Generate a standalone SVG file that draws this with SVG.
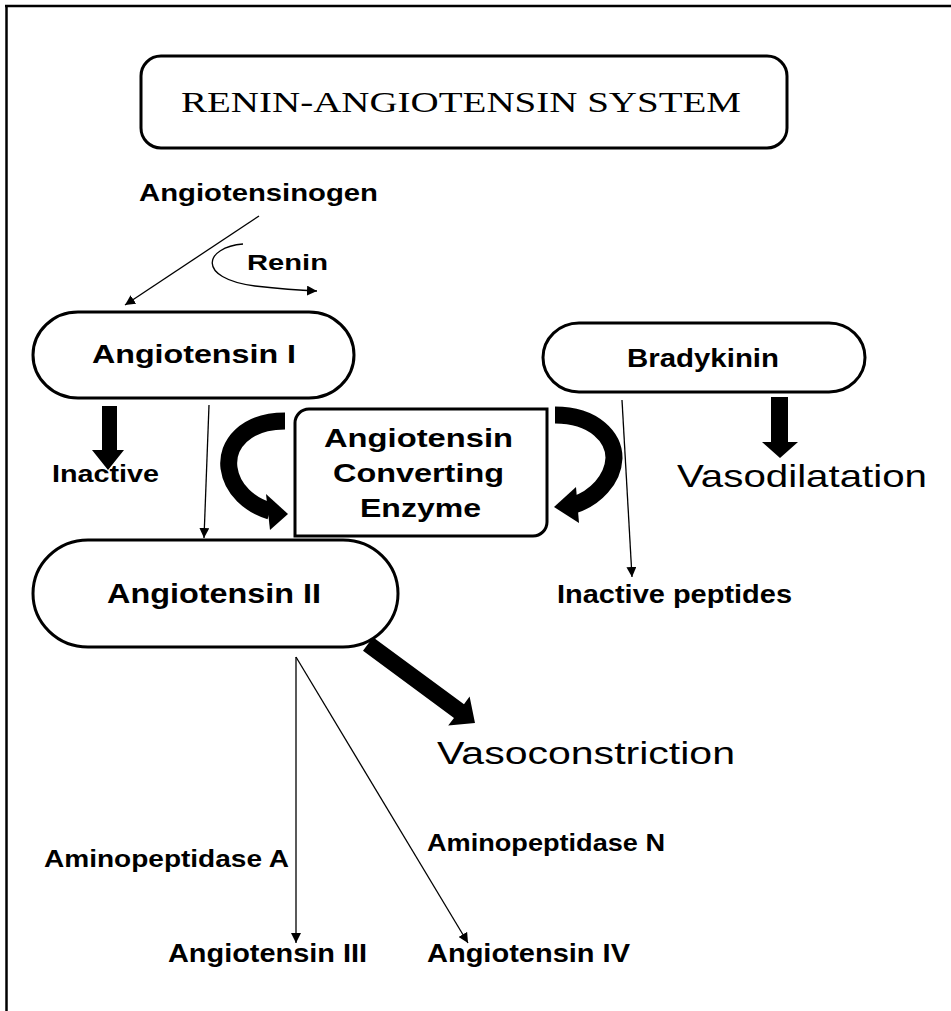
<svg xmlns="http://www.w3.org/2000/svg" width="951" height="1011" viewBox="0 0 951 1011">
<style>
.b{font-family:"Liberation Sans",Arial,sans-serif;font-weight:bold;fill:#000}
.n{font-family:"Liberation Sans",Arial,sans-serif;font-weight:normal;fill:#000}
.box{fill:#fff;stroke:#000;stroke-width:3}
.thin{fill:none;stroke:#000;stroke-width:1.3}
.thick{fill:none;stroke:#000;stroke-width:17}
</style>
<defs>
<marker id="ah" viewBox="0 0 10 10" refX="10" refY="5" markerWidth="10" markerHeight="10" markerUnits="userSpaceOnUse" orient="auto">
<path d="M0,0 L10,5 L0,10 z" fill="#000"/>
</marker>
</defs>
<rect x="0" y="0" width="951" height="1011" fill="#fff"/>
<g id="frame">
<line x1="5" y1="6" x2="951" y2="6" stroke="#000" stroke-width="2.5"/>
<line x1="6.5" y1="5" x2="6.5" y2="1011" stroke="#000" stroke-width="2.5"/>
</g>
<g id="title">
<rect class="box" x="141" y="56" width="646" height="92" rx="20" ry="20"/>
<text x="181" y="112" font-family="'Liberation Serif','Times New Roman',serif" font-size="30" textLength="560" lengthAdjust="spacingAndGlyphs">RENIN-ANGIOTENSIN SYSTEM</text>
</g>
<g id="connectors">
<line class="thin" x1="259" y1="216" x2="125" y2="305" marker-end="url(#ah)"/>
<path class="thin" d="M243 244 C205 247 195 278 255 286 Q290 290 317 291" marker-end="url(#ah)"/>
<line class="thin" x1="209" y1="405" x2="204" y2="538" marker-end="url(#ah)"/>
<line class="thin" x1="622" y1="400" x2="632" y2="577" marker-end="url(#ah)"/>
<line class="thin" x1="296" y1="657" x2="296" y2="943" marker-end="url(#ah)"/>
<line class="thin" x1="296" y1="657" x2="468" y2="943" marker-end="url(#ah)"/>
<polygon points="102,406 117,406 117,450 124,450 108,470 92,450 102,450" fill="#000"/>
<polygon points="771,397 788,397 788,442 798,442 780,458 762,442 771,442" fill="#000"/>
<polygon points="373,637.2 464,704.3 469.6,696.6 475,723 448.2,725.6 454,717.9 363,650.8" fill="#000"/>
<path class="thick" d="M285 421 C245 421 226 445 229 468 C232 490 250 505 270 511"/>
<polygon points="266,494 288,514 270,530" fill="#000"/>
<path class="thick" d="M555 415 C595 415 614 438 614 458 C613 480 595 498 574 505"/>
<polygon points="576,487 554,507 579,523" fill="#000"/>
</g>
<g id="angiotensinogen">
<text class="b" x="139" y="201" font-size="24" textLength="239" lengthAdjust="spacingAndGlyphs">Angiotensinogen</text>
</g>
<g id="renin">
<text class="b" x="247" y="270" font-size="22" textLength="81" lengthAdjust="spacingAndGlyphs">Renin</text>
</g>
<g id="angiotensin-i">
<rect class="box" x="33" y="312" width="321" height="86" rx="45" ry="43"/>
<text class="b" x="92" y="363" font-size="26" textLength="204" lengthAdjust="spacingAndGlyphs">Angiotensin I</text>
</g>
<g id="inactive">
<text class="b" x="52" y="482" font-size="24" textLength="107" lengthAdjust="spacingAndGlyphs">Inactive</text>
</g>
<g id="ace">
<path class="box" d="M309 409 H547 V522 A14 14 0 0 1 533 536 H295 V423 A14 14 0 0 1 309 409 Z"/>
<text class="b" x="324" y="447" font-size="26" textLength="189" lengthAdjust="spacingAndGlyphs">Angiotensin</text>
<text class="b" x="333" y="482" font-size="26" textLength="171" lengthAdjust="spacingAndGlyphs">Converting</text>
<text class="b" x="360" y="517" font-size="26" textLength="121" lengthAdjust="spacingAndGlyphs">Enzyme</text>
</g>
<g id="bradykinin">
<rect class="box" x="543" y="323" width="322" height="69" rx="36" ry="34.5"/>
<text class="b" x="627" y="367" font-size="25" textLength="152" lengthAdjust="spacingAndGlyphs">Bradykinin</text>
</g>
<g id="vasodilatation">
<text class="n" x="677" y="487" font-size="32" textLength="250" lengthAdjust="spacingAndGlyphs">Vasodilatation</text>
</g>
<g id="angiotensin-ii">
<rect class="box" x="33" y="540" width="365" height="107" rx="55" ry="53.5"/>
<text class="b" x="107" y="603" font-size="27" textLength="214" lengthAdjust="spacingAndGlyphs">Angiotensin II</text>
</g>
<g id="inactive-peptides">
<text class="b" x="557" y="603" font-size="25" textLength="235" lengthAdjust="spacingAndGlyphs">Inactive peptides</text>
</g>
<g id="vasoconstriction">
<text class="n" x="437" y="764" font-size="31" textLength="298" lengthAdjust="spacingAndGlyphs">Vasoconstriction</text>
</g>
<g id="aminopeptidase-a">
<text class="b" x="44" y="867" font-size="24" textLength="245" lengthAdjust="spacingAndGlyphs">Aminopeptidase A</text>
</g>
<g id="aminopeptidase-n">
<text class="b" x="427" y="851" font-size="24" textLength="238" lengthAdjust="spacingAndGlyphs">Aminopeptidase N</text>
</g>
<g id="angiotensin-iii">
<text class="b" x="168" y="962" font-size="25" textLength="199" lengthAdjust="spacingAndGlyphs">Angiotensin III</text>
</g>
<g id="angiotensin-iv">
<text class="b" x="427" y="962" font-size="25" textLength="203" lengthAdjust="spacingAndGlyphs">Angiotensin IV</text>
</g>
</svg>
